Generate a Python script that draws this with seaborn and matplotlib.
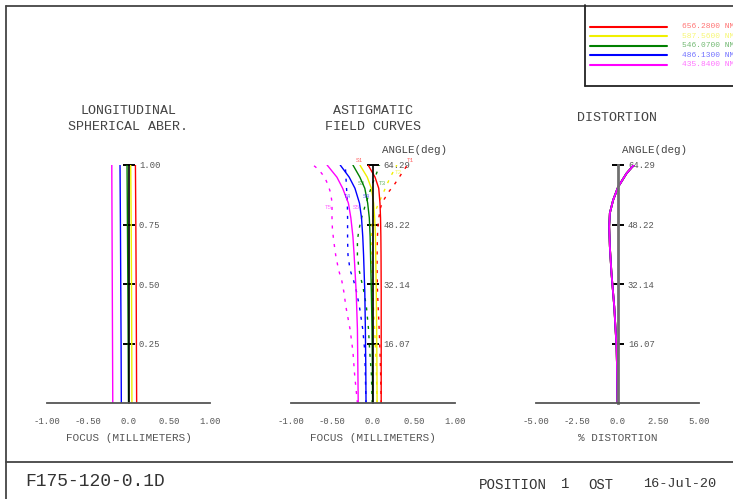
import matplotlib
matplotlib.use("Agg")
import pandas as pd
import matplotlib.pyplot as plt
import seaborn as sns
from matplotlib.lines import Line2D

# wavelengths and their colours
wavelengths = ['656.2800 NM', '587.5600 NM', '546.0700 NM', '486.1300 NM', '435.8400 NM']
colors = ['#ff0000', '#f0f000', '#008000', '#0000ff', '#ff00ff']

# longitudinal spherical aberration (focus mm vs relative pupil)
pupil = [0.0, 0.25, 0.5, 0.75, 1.0]
lsa_red = [0.100, 0.097, 0.094, 0.090, 0.085]
lsa_yellow = [0.042, 0.040, 0.037, 0.033, 0.027]
lsa_green = [0.000, -0.004, -0.008, -0.013, -0.018]
lsa_blue = [-0.088, -0.091, -0.095, -0.099, -0.104]
lsa_magenta = [-0.193, -0.196, -0.199, -0.202, -0.205]

# astigmatic field curves, sagittal (solid)
s_angle = [0, 10, 20, 30, 40, 45, 50, 54, 58, 61, 64.29]
s_red = [0.100, 0.100, 0.100, 0.100, 0.098, 0.096, 0.092, 0.085, 0.070, 0.025, -0.060]
s_yellow = [0.050, 0.048, 0.045, 0.040, 0.033, 0.030, 0.020, 0.008, -0.020, -0.070, -0.160]
s_green = [-0.005, -0.008, -0.012, -0.020, -0.030, -0.035, -0.045, -0.065, -0.100, -0.160, -0.245]
s_blue = [-0.085, -0.088, -0.093, -0.100, -0.115, -0.125, -0.140, -0.165, -0.220, -0.290, -0.400]
s_magenta = [-0.180, -0.185, -0.190, -0.205, -0.230, -0.245, -0.270, -0.300, -0.370, -0.440, -0.560]

# tangential (dashed)
t_angle = [0, 8, 14, 20, 26, 30, 33, 36, 40, 44, 47, 50, 53, 55, 57, 59, 61, 63, 64.29]
t_red = [0.100, 0.093, 0.085, 0.075, 0.063, 0.055, 0.052, 0.050, 0.050, 0.053, 0.058, 0.070,
         0.095, 0.135, 0.190, 0.260, 0.320, 0.380, 0.420]
t_yellow = [0.050, 0.042, 0.032, 0.020, 0.005, -0.005, -0.012, -0.018, -0.022, -0.022, -0.018,
            0.000, 0.050, 0.090, 0.130, 0.170, 0.210, 0.260, 0.290]
t_green = [-0.010, -0.020, -0.040, -0.055, -0.080, -0.110, -0.140, -0.170, -0.190, -0.190, -0.170,
           -0.140, -0.100, -0.070, -0.040, -0.010, 0.025, 0.060, 0.080]
t_blue = [-0.085, -0.094, -0.100, -0.125, -0.165, -0.200, -0.235, -0.280, -0.305, -0.310, -0.310,
          -0.310, -0.312, -0.315, -0.320, -0.325, -0.330, -0.335, -0.340]
t_magenta = [-0.190, -0.225, -0.245, -0.280, -0.330, -0.355, -0.380, -0.420, -0.455, -0.480, -0.495,
             -0.500, -0.500, -0.505, -0.520, -0.550, -0.590, -0.660, -0.730]

# distortion (%), same for all wavelengths
d_angle = [0, 10, 15.3, 20, 26.1, 35.1, 42.3, 47.7, 51.3, 54.8, 58.4, 62.0, 64.29]
d_value = [0.0, -0.03, -0.06, -0.12, -0.20, -0.37, -0.47, -0.51, -0.47, -0.27, 0.04, 0.55, 1.0]

angle_ticks = [16.07, 32.14, 48.22, 64.29]
angle_labels = ['16.07', '32.14', '48.22', '64.29']

# curve labels S1..T5 (x focus, y angle)
curve_tags = ['S1', 'T1', 'T2', 'S3', 'T3', 'T4', 'S4', 'T5', 'S5']
tag_x = [-0.16, 0.46, 0.31, -0.14, 0.12, -0.31, -0.08, -0.54, -0.20]
tag_y = [65.6, 65.6, 62.4, 59.2, 59.2, 55.9, 55.9, 52.7, 52.7]
tag_color = [0, 0, 1, 2, 2, 3, 3, 4, 4]

sns.set_style('white')
plt.rcParams['font.family'] = ['Liberation Mono', 'DejaVu Sans Mono']

W, H = 733, 499
fig = plt.figure(figsize=(W / 100, H / 100), dpi=100)
GREY = '#555555'


def box(x0, width):
    return [x0 / W, (H - 403.3) / H, width / W, 238.3 / H]


def setup(ax, xlim, xticks, xlabels, ylim, yticks, ylabels, xlabel, vcolor, vlw):
    ax.set_xlim(xlim)
    ax.set_ylim(ylim)
    ax.patch.set_alpha(0)
    ax.spines['top'].set_visible(False)
    ax.spines['left'].set_visible(False)
    ax.spines['right'].set_position(('data', 0))
    ax.spines['right'].set_color(vcolor)
    ax.spines['right'].set_linewidth(vlw)
    ax.spines['bottom'].set_color(GREY)
    ax.spines['bottom'].set_linewidth(1.3)
    ax.yaxis.tick_right()
    ax.set_yticks(yticks)
    ax.set_yticklabels(ylabels)
    ax.set_xticks(xticks)
    ax.set_xticklabels(xlabels)
    ax.tick_params(axis='y', direction='inout', length=9, width=1.4, color='black',
                   pad=3, labelsize=6.4, labelcolor=GREY)
    ax.tick_params(axis='x', direction='out', length=8, width=1.3, color=GREY,
                   pad=2, labelsize=6.4, labelcolor=GREY)
    ax.set_xlabel(xlabel, fontsize=7.9, color=GREY, labelpad=5)
    ax.set_ylabel('')


# panel 1: longitudinal spherical aberration
ax1 = fig.add_axes(box(47, 163))
lsa = [lsa_red, lsa_yellow, lsa_green, lsa_blue, lsa_magenta]
for vals, c in zip(lsa, colors):
    sns.lineplot(x=vals, y=pupil, sort=False, estimator=None, color=c, lw=1.0, ax=ax1)
setup(ax1, (-1, 1), [-1, -0.5, 0, 0.5, 1], ['-1.00', '-0.50', '0.0', '0.50', '1.00'],
      (0, 1), [0.25, 0.5, 0.75, 1.0], ['0.25', '0.50', '0.75', '1.00'],
      'FOCUS (MILLIMETERS)', 'black', 1.2)
ax1.text(0.5, 1.193, 'LONGITUDINAL\nSPHERICAL ABER.', transform=ax1.transAxes,
         ha='center', va='center', fontsize=9.6, color='#444444', linespacing=1.35)

# panel 2: astigmatic field curves
ax2 = fig.add_axes(box(291, 164))
sag = [s_red, s_yellow, s_green, s_blue, s_magenta]
tan = [t_red, t_yellow, t_green, t_blue, t_magenta]
for vals, c in zip(tan, colors):
    sns.lineplot(x=vals, y=t_angle, sort=False, estimator=None, color=c, lw=1.0,
                 linestyle=(0, (2.2, 4.5)), ax=ax2)
for vals, c in zip(sag, colors):
    sns.lineplot(x=vals, y=s_angle, sort=False, estimator=None, color=c, lw=1.0, ax=ax2)
setup(ax2, (-1, 1), [-1, -0.5, 0, 0.5, 1], ['-1.00', '-0.50', '0.0', '0.50', '1.00'],
      (0, 64.29), angle_ticks, angle_labels, 'FOCUS (MILLIMETERS)', 'black', 1.2)
ax2.text(0.5, 1.193, 'ASTIGMATIC\nFIELD CURVES', transform=ax2.transAxes,
         ha='center', va='center', fontsize=9.6, color='#444444', linespacing=1.35)
ax2.text(0.553, 1.063, 'ANGLE(deg)', transform=ax2.transAxes, ha='left', va='center',
         fontsize=7.8, color='#444444')
for tag, tx, ty, ci in zip(curve_tags, tag_x, tag_y, tag_color):
    ax2.text(tx, ty, tag, ha='center', va='center', fontsize=4.3, color=colors[ci], alpha=0.6)

# panel 3: distortion
ax3 = fig.add_axes(box(536, 163))
for c in colors:
    sns.lineplot(x=d_value, y=d_angle, sort=False, estimator=None, color=c, lw=1.3, ax=ax3)
setup(ax3, (-5, 5), [-5, -2.5, 0, 2.5, 5], ['-5.00', '-2.50', '0.0', '2.50', '5.00'],
      (0, 64.29), angle_ticks, angle_labels, '% DISTORTION', '#707070', 2.0)
ax3.text(0.5, 1.197, 'DISTORTION', transform=ax3.transAxes,
         ha='center', va='center', fontsize=9.6, color='#444444')
ax3.text(0.526, 1.063, 'ANGLE(deg)', transform=ax3.transAxes, ha='left', va='center',
         fontsize=7.8, color='#444444')


# page frame
def fline(x0, y0, x1, y1, color='#444444', lw=1.3):
    fig.add_artist(Line2D([x0 / W, x1 / W], [1 - y0 / H, 1 - y1 / H],
                          transform=fig.transFigure, color=color, lw=lw))


fline(6, 6, W, 6)
fline(6, 6, 6, H)
fline(6, 462, W, 462)
# legend box
fline(585, 5, 585, 86, color='#222222')
fline(585, 86, W, 86, color='#222222')
for i, (name, c) in enumerate(zip(wavelengths, colors)):
    y = 26.7 + i * 9.5
    fline(590, y, 667, y, color=c, lw=1.5)
    fig.text(682 / W, 1 - y / H, name, ha='left', va='center', fontsize=5.7,
             color=c, alpha=0.55)

# footer
fig.text(25 / W, 1 - 482 / H, 'F175-120-0.1D', ha='left', va='center', fontsize=13, color='#333333')
fig.text(479 / W, 1 - 485 / H, 'POSITION', ha='left', va='center', fontsize=10.2, color='#333333')
fig.text(561 / W, 1 - 484 / H, '1', ha='left', va='center', fontsize=10, color='#333333')
fig.text(588 / W, 1 - 485 / H, 'OST', ha='left', va='center', fontsize=10, color='#333333')
fig.text(643 / W, 1 - 484 / H, '16-Jul-20', ha='left', va='center', fontsize=9.7, color='#333333')

fig.savefig('out.png', dpi=100)
